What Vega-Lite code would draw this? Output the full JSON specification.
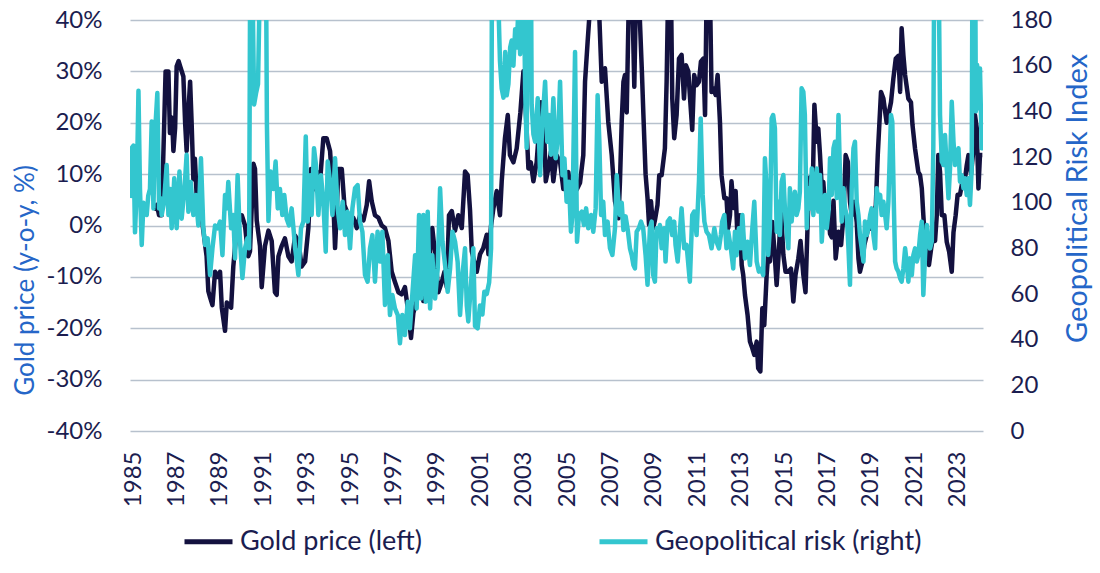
{
"$schema": "https://vega.github.io/schema/vega-lite/v6.json",
"width": 853, "height": 411,
"autosize": {"type": "none"},
"padding": {"left": 130, "top": 20, "right": 117, "bottom": 142},
"background": "white",
"config": {"view": {"stroke": null}, "font": "Lato"},
"datasets": {
"gold": [
{"t":1985.95,"v":3},{"t":1986.1,"v":4},{"t":1986.2,"v":2},{"t":1986.32,"v":2},{"t":1986.45,"v":22},{"t":1986.5,"v":30},{"t":1986.63,"v":30},{"t":1986.7,"v":18},{"t":1986.8,"v":21},{"t":1986.86,"v":14.5},{"t":1986.94,"v":19},
{"t":1987.01,"v":31},{"t":1987.1,"v":32},{"t":1987.17,"v":31},{"t":1987.32,"v":29},{"t":1987.4,"v":20},{"t":1987.47,"v":14.5},{"t":1987.55,"v":22},{"t":1987.63,"v":28},{"t":1987.7,"v":20},{"t":1987.78,"v":9},{"t":1987.85,"v":13},{"t":1987.93,"v":6},
{"t":1988.01,"v":2},{"t":1988.12,"v":3},{"t":1988.24,"v":-1},{"t":1988.39,"v":-6},{"t":1988.47,"v":-12.8},{"t":1988.55,"v":-14},{"t":1988.66,"v":-15.5},{"t":1988.78,"v":-9},{"t":1988.9,"v":-10},
{"t":1989.01,"v":-9},{"t":1989.09,"v":-16},{"t":1989.24,"v":-20.5},{"t":1989.32,"v":-15},{"t":1989.43,"v":-15.5},{"t":1989.52,"v":-16},{"t":1989.62,"v":-8},{"t":1989.78,"v":-0.5},{"t":1989.9,"v":1},
{"t":1990.01,"v":2},{"t":1990.16,"v":0},{"t":1990.31,"v":-6},{"t":1990.39,"v":-5},{"t":1990.55,"v":12},{"t":1990.62,"v":11},{"t":1990.7,"v":1},{"t":1990.85,"v":-4},{"t":1990.93,"v":-12},
{"t":1991.08,"v":-4},{"t":1991.24,"v":-1},{"t":1991.39,"v":-3},{"t":1991.54,"v":-13},{"t":1991.62,"v":-13.5},{"t":1991.7,"v":-6},{"t":1991.85,"v":-4},
{"t":1992.0,"v":-2.5},{"t":1992.16,"v":-6},{"t":1992.31,"v":-7},{"t":1992.47,"v":-2},{"t":1992.62,"v":-3},{"t":1992.77,"v":-8},{"t":1992.93,"v":-7},
{"t":1993.08,"v":-0.5},{"t":1993.2,"v":11},{"t":1993.31,"v":7},{"t":1993.46,"v":10.5},{"t":1993.62,"v":8.6},{"t":1993.77,"v":17},{"t":1993.92,"v":17},
{"t":1994.08,"v":14.5},{"t":1994.23,"v":4.7},{"t":1994.31,"v":-4.4},{"t":1994.38,"v":2},{"t":1994.46,"v":11},{"t":1994.62,"v":11},{"t":1994.74,"v":4},{"t":1994.85,"v":2.8},
{"t":1995.0,"v":0.2},{"t":1995.15,"v":1.5},{"t":1995.31,"v":-0.5},{"t":1995.46,"v":2},{"t":1995.62,"v":1},{"t":1995.77,"v":4},{"t":1995.88,"v":8.6},
{"t":1996.0,"v":4.7},{"t":1996.15,"v":2},{"t":1996.31,"v":1.5},{"t":1996.46,"v":0},{"t":1996.61,"v":-0.5},{"t":1996.77,"v":-3},{"t":1996.92,"v":-9},
{"t":1997.07,"v":-11},{"t":1997.23,"v":-13},{"t":1997.38,"v":-13.4},{"t":1997.53,"v":-12},{"t":1997.69,"v":-17},{"t":1997.81,"v":-21.9},{"t":1997.92,"v":-17},
{"t":1998.07,"v":-14.7},{"t":1998.23,"v":-11},{"t":1998.38,"v":-14.7},{"t":1998.53,"v":-12},{"t":1998.69,"v":-4.4},{"t":1998.79,"v":-0.5},{"t":1998.92,"v":-5.6},
{"t":1999.07,"v":-13},{"t":1999.23,"v":-11},{"t":1999.35,"v":-9},{"t":1999.46,"v":-12},{"t":1999.56,"v":2},{"t":1999.69,"v":2.8},{"t":1999.84,"v":-1},{"t":1999.99,"v":2},
{"t":2000.15,"v":-0.5},{"t":2000.3,"v":10.5},{"t":2000.42,"v":9.8},{"t":2000.53,"v":3},{"t":2000.61,"v":-5},{"t":2000.72,"v":-7},{"t":2000.84,"v":-9},{"t":2000.99,"v":-5.6},
{"t":2001.14,"v":-4.4},{"t":2001.3,"v":-1.8},{"t":2001.38,"v":-5.6},{"t":2001.5,"v":0},{"t":2001.61,"v":3.4},{"t":2001.76,"v":6.7},{"t":2001.91,"v":2},{"t":2001.99,"v":8.6},
{"t":2002.14,"v":17},{"t":2002.27,"v":21.5},{"t":2002.37,"v":13.7},{"t":2002.53,"v":12.3},{"t":2002.68,"v":15},{"t":2002.85,"v":22},{"t":2002.99,"v":30},
{"t":2003.07,"v":25},{"t":2003.22,"v":11.1},{"t":2003.33,"v":12.3},{"t":2003.45,"v":8.6},{"t":2003.6,"v":12.3},{"t":2003.8,"v":24},{"t":2003.94,"v":19},
{"t":2004.02,"v":8.6},{"t":2004.14,"v":11.1},{"t":2004.26,"v":14.4},{"t":2004.37,"v":8.6},{"t":2004.52,"v":13.7},{"t":2004.68,"v":12.3},{"t":2004.83,"v":7.1},{"t":2004.91,"v":8.6},
{"t":2005.06,"v":10.4},{"t":2005.18,"v":6.4},{"t":2005.29,"v":9},{"t":2005.45,"v":7},{"t":2005.6,"v":8.3},{"t":2005.75,"v":13.7},{"t":2005.83,"v":28},{"t":2005.95,"v":35.8},
{"t":2006.1,"v":45},{"t":2006.3,"v":50},{"t":2006.45,"v":45},{"t":2006.6,"v":28},{"t":2006.75,"v":30.6},{"t":2006.9,"v":20.2},
{"t":2007.06,"v":13.7},{"t":2007.21,"v":4.7},{"t":2007.37,"v":1.4},{"t":2007.44,"v":8.6},{"t":2007.52,"v":20.2},{"t":2007.6,"v":28},{"t":2007.67,"v":29.3},{"t":2007.75,"v":22},{"t":2007.83,"v":40},{"t":2007.9,"v":48},
{"t":2008.0,"v":46},{"t":2008.1,"v":27},{"t":2008.2,"v":50},{"t":2008.32,"v":44},{"t":2008.45,"v":30},{"t":2008.52,"v":21.5},{"t":2008.62,"v":10},{"t":2008.71,"v":5.3},{"t":2008.78,"v":0.1},{"t":2008.87,"v":4.7},{"t":2008.97,"v":-0.5},
{"t":2009.05,"v":1},{"t":2009.17,"v":4},{"t":2009.25,"v":9.8},{"t":2009.36,"v":9.8},{"t":2009.51,"v":15},{"t":2009.59,"v":28},{"t":2009.67,"v":48},{"t":2009.79,"v":46},{"t":2009.85,"v":24.7},{"t":2009.94,"v":17},
{"t":2010.05,"v":21.5},{"t":2010.16,"v":32.5},{"t":2010.28,"v":33.2},{"t":2010.39,"v":24.7},{"t":2010.48,"v":31.2},{"t":2010.59,"v":30},{"t":2010.66,"v":25.4},{"t":2010.77,"v":18.6},{"t":2010.86,"v":29.3},{"t":2010.97,"v":27.3},
{"t":2011.08,"v":28},{"t":2011.17,"v":31.9},{"t":2011.28,"v":32.5},{"t":2011.36,"v":21.5},{"t":2011.43,"v":44},{"t":2011.52,"v":50},{"t":2011.59,"v":45},{"t":2011.66,"v":26},{"t":2011.74,"v":26.7},{"t":2011.85,"v":25.4},{"t":2011.94,"v":29.3},
{"t":2012.05,"v":20},{"t":2012.12,"v":9.8},{"t":2012.25,"v":5.3},{"t":2012.35,"v":5.3},{"t":2012.43,"v":-0.5},{"t":2012.51,"v":2},{"t":2012.58,"v":8.6},{"t":2012.68,"v":3.4},{"t":2012.77,"v":6.7},{"t":2012.86,"v":-3},{"t":2012.97,"v":2},
{"t":2013.05,"v":-7.7},{"t":2013.12,"v":-9.6},{"t":2013.2,"v":-13.5},{"t":2013.32,"v":-17.4},{"t":2013.43,"v":-22.6},{"t":2013.54,"v":-23.9},{"t":2013.63,"v":-25.2},{"t":2013.74,"v":-22.6},{"t":2013.81,"v":-27.8},{"t":2013.91,"v":-28.4},
{"t":2014.0,"v":-16.1},{"t":2014.09,"v":-19.4},{"t":2014.2,"v":-9.6},{"t":2014.27,"v":-5.7},{"t":2014.35,"v":-7},{"t":2014.46,"v":0.7},{"t":2014.55,"v":-4.4},{"t":2014.66,"v":-11.6},{"t":2014.77,"v":-4.4},{"t":2014.86,"v":3.4},{"t":2014.97,"v":-5.7},
{"t":2015.07,"v":-9},{"t":2015.2,"v":-9},{"t":2015.32,"v":-8.4},{"t":2015.43,"v":-14.8},{"t":2015.53,"v":-9.6},{"t":2015.66,"v":-6.4},{"t":2015.76,"v":-3},{"t":2015.89,"v":-9.6},{"t":2015.99,"v":-13},
{"t":2016.1,"v":2},{"t":2016.2,"v":9.4},{"t":2016.31,"v":4.6},{"t":2016.4,"v":23.5},{"t":2016.51,"v":16.3},{"t":2016.58,"v":18.9},{"t":2016.66,"v":13.7},{"t":2016.74,"v":7.2},{"t":2016.81,"v":8.5},{"t":2016.92,"v":2},
{"t":2017.05,"v":2.7},{"t":2017.12,"v":-1.6},{"t":2017.2,"v":-2.3},{"t":2017.28,"v":4.8},{"t":2017.38,"v":-6.4},{"t":2017.51,"v":-1.2},{"t":2017.63,"v":-3.8},{"t":2017.74,"v":2},{"t":2017.84,"v":13.7},{"t":2017.94,"v":12.4},
{"t":2018.04,"v":4.6},{"t":2018.12,"v":2},{"t":2018.24,"v":4.6},{"t":2018.35,"v":0.7},{"t":2018.43,"v":-6.4},{"t":2018.5,"v":-9},{"t":2018.61,"v":-7.1},{"t":2018.7,"v":-3.8},{"t":2018.81,"v":-1.9},{"t":2018.92,"v":0.7},
{"t":2019.01,"v":-0.6},{"t":2019.12,"v":2},{"t":2019.23,"v":3.9},{"t":2019.32,"v":13.7},{"t":2019.47,"v":26},{"t":2019.58,"v":24.7},{"t":2019.73,"v":20},{"t":2019.81,"v":21.5},{"t":2019.93,"v":24},
{"t":2020.04,"v":28.6},{"t":2020.15,"v":32.5},{"t":2020.27,"v":33},{"t":2020.35,"v":26},{"t":2020.42,"v":38.4},{"t":2020.5,"v":33.2},{"t":2020.58,"v":29.3},{"t":2020.73,"v":24.7},{"t":2020.85,"v":24},{"t":2020.92,"v":19.6},
{"t":2021.04,"v":14.9},{"t":2021.19,"v":10.4},{"t":2021.27,"v":9.8},{"t":2021.35,"v":7.2},{"t":2021.42,"v":2},{"t":2021.5,"v":-3.2},{"t":2021.58,"v":-5.7},{"t":2021.68,"v":-7.7},{"t":2021.78,"v":-4.5},{"t":2021.88,"v":-1.9},{"t":2021.96,"v":-3},
{"t":2022.04,"v":2},{"t":2022.11,"v":13.7},{"t":2022.19,"v":10.4},{"t":2022.27,"v":2},{"t":2022.39,"v":2},{"t":2022.5,"v":-3.2},{"t":2022.61,"v":-5.1},{"t":2022.73,"v":-9},{"t":2022.81,"v":-1.3},{"t":2022.91,"v":2},
{"t":2023.0,"v":6},{"t":2023.11,"v":6},{"t":2023.22,"v":8.5},{"t":2023.31,"v":8},{"t":2023.42,"v":11.7},{"t":2023.5,"v":13.7},{"t":2023.62,"v":10},{"t":2023.73,"v":14.9},{"t":2023.8,"v":21.5},{"t":2023.88,"v":19},{"t":2023.96,"v":7.2},
{"t":2024.03,"v":13.7},{"t":2024.14,"v":13.7}
],
"gpr": [
{"t":1984.88,"v":102},{"t":1984.94,"v":124},{"t":1985.02,"v":125},{"t":1985.09,"v":87},{"t":1985.17,"v":106},{"t":1985.25,"v":149},{"t":1985.32,"v":106},{"t":1985.4,"v":81.5},{"t":1985.48,"v":100},{"t":1985.55,"v":96},{"t":1985.63,"v":94.6},{"t":1985.7,"v":103},{"t":1985.78,"v":106},{"t":1985.86,"v":135.5},{"t":1985.94,"v":97.5},
{"t":1986.01,"v":130},{"t":1986.12,"v":148},{"t":1986.2,"v":97.5},{"t":1986.26,"v":102},{"t":1986.32,"v":94.6},{"t":1986.43,"v":100.4},{"t":1986.55,"v":116.5},{"t":1986.63,"v":94.6},{"t":1986.71,"v":106},{"t":1986.78,"v":88.8},{"t":1986.9,"v":110.7},
{"t":1987.01,"v":88.8},{"t":1987.14,"v":113.6},{"t":1987.24,"v":93},{"t":1987.37,"v":106},{"t":1987.47,"v":121},{"t":1987.55,"v":96},{"t":1987.66,"v":109},{"t":1987.78,"v":94.6},{"t":1987.89,"v":103.4},
{"t":1988.01,"v":90},{"t":1988.13,"v":119.4},{"t":1988.24,"v":88.8},{"t":1988.32,"v":81.5},{"t":1988.44,"v":84.4},{"t":1988.55,"v":68.3},{"t":1988.66,"v":80},{"t":1988.78,"v":90},{"t":1988.9,"v":88.8},
{"t":1989.01,"v":91.7},{"t":1989.12,"v":77},{"t":1989.24,"v":103.4},{"t":1989.32,"v":97.5},{"t":1989.39,"v":109},{"t":1989.52,"v":88.8},{"t":1989.62,"v":94.6},{"t":1989.7,"v":75.6},{"t":1989.82,"v":112},{"t":1989.93,"v":83},
{"t":1990.04,"v":67},{"t":1990.16,"v":80},{"t":1990.27,"v":84.4},{"t":1990.35,"v":80},{"t":1990.42,"v":260},{"t":1990.5,"v":200},{"t":1990.58,"v":143},{"t":1990.67,"v":148},{"t":1990.76,"v":152},{"t":1990.85,"v":200},{"t":1990.94,"v":300},
{"t":1991.02,"v":450},{"t":1991.1,"v":250},{"t":1991.17,"v":134},{"t":1991.24,"v":92},{"t":1991.34,"v":113.6},{"t":1991.47,"v":106},{"t":1991.57,"v":118},{"t":1991.67,"v":97.5},{"t":1991.77,"v":106},{"t":1991.88,"v":94.6},{"t":1991.97,"v":103.4},
{"t":1992.08,"v":93},{"t":1992.19,"v":90},{"t":1992.31,"v":97.5},{"t":1992.4,"v":88},{"t":1992.47,"v":80},{"t":1992.54,"v":75},{"t":1992.62,"v":68.3},{"t":1992.74,"v":88.8},{"t":1992.85,"v":91.7},{"t":1992.96,"v":129},
{"t":1993.05,"v":91.7},{"t":1993.16,"v":112},{"t":1993.23,"v":94.6},{"t":1993.34,"v":123.8},{"t":1993.43,"v":116.5},{"t":1993.54,"v":94.6},{"t":1993.66,"v":112},{"t":1993.77,"v":100.4},{"t":1993.88,"v":78.5},{"t":1993.97,"v":118},
{"t":1994.08,"v":109},{"t":1994.19,"v":94.6},{"t":1994.31,"v":119.4},{"t":1994.43,"v":97.5},{"t":1994.54,"v":88.8},{"t":1994.66,"v":100.4},{"t":1994.77,"v":85.8},{"t":1994.89,"v":96},
{"t":1995.0,"v":80},{"t":1995.11,"v":97.5},{"t":1995.23,"v":106.3},{"t":1995.35,"v":107.7},{"t":1995.46,"v":91.7},{"t":1995.57,"v":87.3},{"t":1995.69,"v":68.3},{"t":1995.81,"v":65.4},{"t":1995.92,"v":80},
{"t":1996.03,"v":85.8},{"t":1996.15,"v":65.4},{"t":1996.27,"v":87.3},{"t":1996.38,"v":74.2},{"t":1996.49,"v":87.3},{"t":1996.61,"v":55.2},{"t":1996.74,"v":77},{"t":1996.84,"v":50.8},{"t":1996.95,"v":59.6},
{"t":1997.07,"v":53.7},{"t":1997.2,"v":50.8},{"t":1997.3,"v":38.4},{"t":1997.41,"v":50.8},{"t":1997.53,"v":42},{"t":1997.66,"v":56.6},{"t":1997.76,"v":45},{"t":1997.87,"v":59.6},
{"t":1998.0,"v":77},{"t":1998.07,"v":53.7},{"t":1998.18,"v":94.6},{"t":1998.27,"v":58},{"t":1998.38,"v":94.6},{"t":1998.49,"v":56.6},{"t":1998.58,"v":96},{"t":1998.69,"v":53.7},{"t":1998.79,"v":77},{"t":1998.92,"v":58},
{"t":1999.04,"v":71},{"t":1999.15,"v":106.3},{"t":1999.26,"v":83},{"t":1999.38,"v":72.7},{"t":1999.5,"v":61},{"t":1999.61,"v":71},{"t":1999.72,"v":87.3},{"t":1999.84,"v":83},{"t":1999.96,"v":74},
{"t":2000.07,"v":50.8},{"t":2000.18,"v":68.3},{"t":2000.3,"v":80},{"t":2000.38,"v":55},{"t":2000.45,"v":48},{"t":2000.58,"v":65},{"t":2000.68,"v":80},{"t":2000.76,"v":46},{"t":2000.88,"v":45},{"t":2000.99,"v":55},
{"t":2001.1,"v":51},{"t":2001.19,"v":61},{"t":2001.3,"v":60},{"t":2001.41,"v":65},{"t":2001.5,"v":80},{"t":2001.58,"v":320},{"t":2001.66,"v":260},{"t":2001.75,"v":200},{"t":2001.83,"v":190},{"t":2001.91,"v":162},{"t":2001.99,"v":150},
{"t":2002.07,"v":146},{"t":2002.15,"v":166},{"t":2002.22,"v":147},{"t":2002.3,"v":152},{"t":2002.38,"v":168},{"t":2002.45,"v":171},{"t":2002.53,"v":160},{"t":2002.61,"v":176},{"t":2002.68,"v":168},{"t":2002.76,"v":185},{"t":2002.84,"v":165},{"t":2002.91,"v":200},{"t":2002.99,"v":210},
{"t":2003.07,"v":150},{"t":2003.14,"v":124},{"t":2003.22,"v":230},{"t":2003.3,"v":280},{"t":2003.37,"v":143},{"t":2003.45,"v":130},{"t":2003.53,"v":126.7},{"t":2003.65,"v":145.7},{"t":2003.76,"v":112},{"t":2003.86,"v":134},{"t":2003.99,"v":153},
{"t":2004.09,"v":126.7},{"t":2004.17,"v":138.4},{"t":2004.26,"v":121},{"t":2004.37,"v":145.7},{"t":2004.48,"v":119.4},{"t":2004.6,"v":131},{"t":2004.68,"v":153},{"t":2004.79,"v":112},{"t":2004.88,"v":119.4},{"t":2004.98,"v":100.4},
{"t":2005.09,"v":109.2},{"t":2005.18,"v":87.3},{"t":2005.25,"v":94.6},{"t":2005.37,"v":166},{"t":2005.46,"v":82.9},{"t":2005.55,"v":94.6},{"t":2005.68,"v":96.1},{"t":2005.78,"v":90.2},{"t":2005.88,"v":97.5},{"t":2005.98,"v":88.8},
{"t":2006.11,"v":94.6},{"t":2006.21,"v":87.3},{"t":2006.32,"v":97.5},{"t":2006.41,"v":147},{"t":2006.49,"v":126.7},{"t":2006.57,"v":94.6},{"t":2006.67,"v":100.4},{"t":2006.75,"v":85.8},{"t":2006.87,"v":91.7},{"t":2006.98,"v":80},
{"t":2007.09,"v":77.1},{"t":2007.21,"v":88.8},{"t":2007.29,"v":112},{"t":2007.37,"v":100.4},{"t":2007.44,"v":94.6},{"t":2007.52,"v":100},{"t":2007.6,"v":88},{"t":2007.7,"v":94},{"t":2007.8,"v":88},{"t":2007.9,"v":80},{"t":2007.98,"v":77},
{"t":2008.06,"v":72.7},{"t":2008.13,"v":71.2},{"t":2008.21,"v":87.3},{"t":2008.31,"v":88.8},{"t":2008.41,"v":91.7},{"t":2008.51,"v":88.8},{"t":2008.62,"v":77.1},{"t":2008.71,"v":64},{"t":2008.82,"v":88.8},{"t":2008.9,"v":91.7},{"t":2008.97,"v":68.3},
{"t":2009.05,"v":65.4},{"t":2009.13,"v":88.8},{"t":2009.21,"v":85.8},{"t":2009.28,"v":90.2},{"t":2009.36,"v":80},{"t":2009.48,"v":88.8},{"t":2009.54,"v":74.2},{"t":2009.64,"v":91.7},{"t":2009.74,"v":93.1},{"t":2009.85,"v":85.8},{"t":2009.94,"v":91.7},
{"t":2010.0,"v":81.5},{"t":2010.1,"v":74.2},{"t":2010.2,"v":87.3},{"t":2010.28,"v":97.5},{"t":2010.4,"v":80},{"t":2010.51,"v":81.5},{"t":2010.66,"v":65.4},{"t":2010.77,"v":94.6},{"t":2010.86,"v":96.1},{"t":2010.97,"v":85.8},
{"t":2011.08,"v":109.2},{"t":2011.16,"v":136.9},{"t":2011.25,"v":103.4},{"t":2011.33,"v":91.7},{"t":2011.43,"v":87.3},{"t":2011.54,"v":85.8},{"t":2011.66,"v":80},{"t":2011.79,"v":88.8},{"t":2011.89,"v":82.9},
{"t":2012.0,"v":80},{"t":2012.09,"v":85.8},{"t":2012.15,"v":91.7},{"t":2012.25,"v":94.6},{"t":2012.35,"v":80},{"t":2012.43,"v":87.3},{"t":2012.55,"v":80},{"t":2012.66,"v":71.2},{"t":2012.74,"v":87.3},{"t":2012.81,"v":77},{"t":2012.92,"v":88.8},
{"t":2013.01,"v":80},{"t":2013.08,"v":94.6},{"t":2013.2,"v":75.6},{"t":2013.32,"v":82.9},{"t":2013.43,"v":72.7},{"t":2013.54,"v":88.8},{"t":2013.63,"v":100.4},{"t":2013.74,"v":74.2},{"t":2013.84,"v":69.8},{"t":2013.94,"v":71},
{"t":2014.04,"v":68.3},{"t":2014.12,"v":119.4},{"t":2014.2,"v":106.3},{"t":2014.27,"v":77.1},{"t":2014.35,"v":88.8},{"t":2014.43,"v":136.9},{"t":2014.5,"v":138.4},{"t":2014.58,"v":132.6},{"t":2014.66,"v":87.3},{"t":2014.74,"v":100.4},{"t":2014.81,"v":85.8},{"t":2014.89,"v":109.2},{"t":2014.97,"v":112.1},
{"t":2015.04,"v":97.5},{"t":2015.12,"v":87.3},{"t":2015.2,"v":80},{"t":2015.27,"v":106.3},{"t":2015.35,"v":91.7},{"t":2015.43,"v":100.4},{"t":2015.5,"v":104.8},{"t":2015.58,"v":94.6},{"t":2015.66,"v":97.5},{"t":2015.73,"v":104.8},{"t":2015.81,"v":150.1},{"t":2015.89,"v":148.6},{"t":2015.96,"v":138.4},
{"t":2016.05,"v":88.8},{"t":2016.12,"v":106.3},{"t":2016.2,"v":97.5},{"t":2016.28,"v":115},{"t":2016.35,"v":94.6},{"t":2016.43,"v":106.3},{"t":2016.51,"v":115},{"t":2016.58,"v":96.1},{"t":2016.66,"v":112.1},{"t":2016.74,"v":82.9},{"t":2016.81,"v":94.6},{"t":2016.89,"v":103.4},{"t":2016.97,"v":88.8},
{"t":2017.05,"v":96.1},{"t":2017.12,"v":119.4},{"t":2017.2,"v":103.4},{"t":2017.28,"v":123.8},{"t":2017.35,"v":126.7},{"t":2017.43,"v":102},{"t":2017.51,"v":138.4},{"t":2017.58,"v":112.1},{"t":2017.66,"v":91.7},{"t":2017.74,"v":106.3},{"t":2017.81,"v":97.5},{"t":2017.89,"v":94.6},{"t":2017.97,"v":80},
{"t":2018.04,"v":64},{"t":2018.12,"v":106.3},{"t":2018.2,"v":123.8},{"t":2018.27,"v":126.7},{"t":2018.35,"v":100.4},{"t":2018.43,"v":94.6},{"t":2018.5,"v":85.8},{"t":2018.58,"v":80},{"t":2018.66,"v":74.2},{"t":2018.73,"v":91.7},{"t":2018.81,"v":85.8},{"t":2018.89,"v":88.8},{"t":2018.97,"v":94.6},
{"t":2019.04,"v":97.5},{"t":2019.12,"v":85.8},{"t":2019.2,"v":80},{"t":2019.27,"v":106.3},{"t":2019.35,"v":100.4},{"t":2019.43,"v":103.4},{"t":2019.5,"v":94.6},{"t":2019.58,"v":100.4},{"t":2019.66,"v":94.6},{"t":2019.73,"v":88.8},{"t":2019.81,"v":100.4},{"t":2019.93,"v":138.4},{"t":2019.99,"v":135.5},
{"t":2020.06,"v":100},{"t":2020.12,"v":74.2},{"t":2020.19,"v":71.2},{"t":2020.27,"v":69.8},{"t":2020.35,"v":66.9},{"t":2020.42,"v":65.4},{"t":2020.5,"v":71.2},{"t":2020.58,"v":80},{"t":2020.65,"v":74.2},{"t":2020.73,"v":65.4},{"t":2020.81,"v":75.6},{"t":2020.89,"v":68.3},{"t":2020.96,"v":77},
{"t":2021.04,"v":80},{"t":2021.12,"v":74.2},{"t":2021.19,"v":77},{"t":2021.27,"v":85.8},{"t":2021.35,"v":91.7},{"t":2021.42,"v":59.6},{"t":2021.5,"v":77},{"t":2021.58,"v":90.2},{"t":2021.65,"v":83},{"t":2021.73,"v":80},{"t":2021.81,"v":83},{"t":2021.88,"v":123.8},{"t":2021.95,"v":260},
{"t":2022.04,"v":320},{"t":2022.11,"v":220},{"t":2022.19,"v":138.4},{"t":2022.27,"v":118},{"t":2022.35,"v":116.5},{"t":2022.42,"v":129.6},{"t":2022.5,"v":115},{"t":2022.58,"v":101.9},{"t":2022.65,"v":115},{"t":2022.73,"v":144.2},{"t":2022.81,"v":126.7},{"t":2022.88,"v":116.5},{"t":2022.96,"v":118},
{"t":2023.04,"v":123.8},{"t":2023.11,"v":109.2},{"t":2023.19,"v":112},{"t":2023.27,"v":106.3},{"t":2023.34,"v":110.7},{"t":2023.42,"v":103.4},{"t":2023.5,"v":110.7},{"t":2023.57,"v":99},{"t":2023.65,"v":115},{"t":2023.7,"v":250},{"t":2023.77,"v":300},{"t":2023.84,"v":140},{"t":2023.9,"v":160.3},{"t":2023.96,"v":141.3},
{"t":2024.03,"v":158.8},{"t":2024.11,"v":123.8},{"t":2024.17,"v":125}
]
},
"layer": [
{
"data": {"name": "gold"},
"mark": {"type": "line", "clip": true, "strokeWidth": 4.5, "strokeJoin": "round"},
"encoding": {
"x": {"field": "t", "type": "quantitative", "scale": {"domain": [1984.86, 2024.17], "nice": false, "zero": false},
"axis": {"values": [1985,1987,1989,1991,1993,1995,1997,1999,2001,2003,2005,2007,2009,2011,2013,2015,2017,2019,2021,2023], "format": "d", "labelAngle": -90, "labelFontSize": 24, "labelFont": "Lato", "labelColor": "#1b1d50", "labelPadding": 20, "ticks": false, "domain": false, "grid": false, "title": null, "labelOverlap": false}},
"y": {"field": "v", "type": "quantitative", "scale": {"domain": [-40, 40], "nice": false, "zero": false},
"axis": {"values": [-40,-30,-20,-10,0,10,20,30,40], "labelExpr": "datum.value + '%'", "grid": true, "gridColor": "#b7c1cd", "gridWidth": 1.6, "domain": false, "ticks": false, "labelFontSize": 24, "labelFont": "Lato", "labelColor": "#1b1d50", "labelPadding": 28,
"title": "Gold price (y-o-y, %)", "titleFont": "Lato", "titleFontSize": 26, "titleFontWeight": "normal", "titleColor": "#2566c8", "titleX": -105, "titleY": 260, "titleAngle": -90, "titleAlign": "center", "titleBaseline": "middle"}},
"color": {"datum": "Gold price (left)", "type": "nominal",
"scale": {"domain": ["Gold price (left)", "Geopolitical risk (right)"], "range": ["#13113f", "#33c6cf"]},
"legend": {"orient": "none", "legendX": 52, "legendY": 495, "direction": "horizontal", "title": null, "symbolType": "stroke", "symbolSize": 2304, "symbolStrokeWidth": 5, "labelFontSize": 27, "labelFont": "Lato", "labelColor": "#1b1d50", "labelOffset": 5, "columnPadding": 167, "labelLimit": 500, "padding": 0}}
}
},
{
"data": {"name": "gpr"},
"mark": {"type": "line", "clip": true, "strokeWidth": 4.5, "strokeJoin": "round"},
"encoding": {
"x": {"field": "t", "type": "quantitative", "scale": {"domain": [1984.86, 2024.17], "nice": false, "zero": false},
"axis": {"values": [1985,1987,1989,1991,1993,1995,1997,1999,2001,2003,2005,2007,2009,2011,2013,2015,2017,2019,2021,2023], "format": "d", "labelAngle": -90, "labelFontSize": 24, "labelFont": "Lato", "labelColor": "#1b1d50", "labelPadding": 20, "ticks": false, "domain": false, "grid": false, "title": null, "labelOverlap": false}},
"y": {"field": "v", "type": "quantitative", "scale": {"domain": [0, 180], "nice": false, "zero": false},
"axis": {"orient": "right", "values": [0,20,40,60,80,100,120,140,160,180], "grid": false, "domain": false, "ticks": false, "labelFontSize": 24, "labelFont": "Lato", "labelColor": "#1b1d50", "labelPadding": 27,
"title": "Geopolitical Risk Index", "titleFont": "Lato", "titleFontSize": 29, "titleFontWeight": "normal", "titleColor": "#2566c8", "titleX": 94, "titleY": 178, "titleAngle": -90, "titleAlign": "center", "titleBaseline": "middle"}},
"color": {"datum": "Geopolitical risk (right)", "type": "nominal"}
}
}
],
"resolve": {"scale": {"y": "independent"}}
}
